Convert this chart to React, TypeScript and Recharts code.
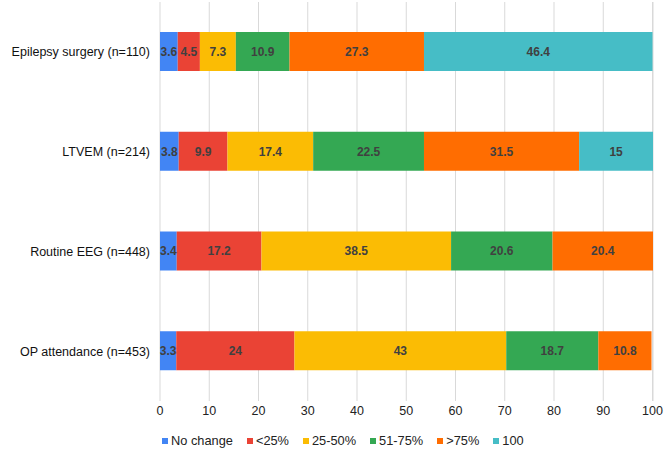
import React from 'react';
import { BarChart, Bar, XAxis, YAxis, CartesianGrid, Legend, LabelList } from 'recharts';

const categories = ['Epilepsy surgery (n=110)', 'LTVEM (n=214)', 'Routine EEG (n=448)', 'OP attendance (n=453)'];
const seriesNames = ['No change', '<25%', '25-50%', '51-75%', '>75%', '100'];
const noChange = [3.6, 3.8, 3.4, 3.3];
const under25 = [4.5, 9.9, 17.2, 24];
const p25to50 = [7.3, 17.4, 38.5, 43];
const p51to75 = [10.9, 22.5, 20.6, 18.7];
const over75 = [27.3, 31.5, 20.4, 10.8];
const full100 = [46.4, 15, 0, 0];
const xTicks = [0, 10, 20, 30, 40, 50, 60, 70, 80, 90, 100];

const seriesValues = [noChange, under25, p25to50, p51to75, over75, full100];
const colors = ['#4285F4', '#EA4335', '#FBBC04', '#34A853', '#FF6D01', '#46BDC6'];

const data = categories.map((name, i) => {
  const row: Record<string, any> = { name };
  seriesNames.forEach((s, j) => {
    row[s] = seriesValues[j][i];
  });
  return row;
});

const fmt = (v: any) => (v === 0 || v === null || v === undefined ? '' : String(v));

const YTick = (props: any) => {
  const { x, y, payload } = props;
  return (
    <text x={x} y={y} dy="0.35em" textAnchor="end" fill="#111" fontSize={12.5}>
      {payload.value}
    </text>
  );
};

const LegendContent = (props: any) => {
  const payload = [...(props.payload || [])].sort(
    (a: any, b: any) => seriesNames.indexOf(a.value) - seriesNames.indexOf(b.value)
  );
  return (
    <div style={{ display: 'flex', alignItems: 'center', fontSize: 12.8, color: '#222', lineHeight: '16px' }}>
      {payload.map((p: any) => (
        <div key={p.value} style={{ display: 'flex', alignItems: 'center', marginRight: 14 }}>
          <span style={{ display: 'inline-block', width: 6, height: 6, background: p.color, marginRight: 3 }} />
          <span>{p.value}</span>
        </div>
      ))}
    </div>
  );
};

export default function App() {
  return (
    <div style={{ position: 'absolute', left: 0, top: 0, width: 666, height: 451, background: '#fff' }}>
      <BarChart
        width={666}
        height={451}
        data={data}
        layout="vertical"
        margin={{ top: 2, right: 13, left: 0, bottom: 5 }}
        style={{ fontFamily: '"Liberation Sans", Arial, sans-serif' }}
      >
        <CartesianGrid horizontal={false} stroke="#d9d9d9" />
        <XAxis
          type="number"
          domain={[0, 100]}
          ticks={xTicks}
          axisLine={false}
          tickLine={false}
          tickSize={0}
          tickMargin={5}
          height={25}
          tick={{ fill: '#222', fontSize: 12.5 }}
          interval={0}
        />
        <YAxis
          type="category"
          dataKey="name"
          width={160}
          axisLine={false}
          tickLine={false}
          tickSize={0}
          tickMargin={10}
          tick={<YTick />}
        />
        <Legend
          height={20}
          content={<LegendContent />}
          wrapperStyle={{ top: 433, left: 162, width: 500 }}
        />
        {seriesNames.map((s, j) => (
          <Bar key={s} dataKey={s} name={s} stackId="a" fill={colors[j]} barSize={39} isAnimationActive={false}>
            <LabelList dataKey={s} position="center" formatter={fmt} fill="#404040" fontSize={12} fontWeight="bold" />
          </Bar>
        ))}
      </BarChart>
    </div>
  );
}
